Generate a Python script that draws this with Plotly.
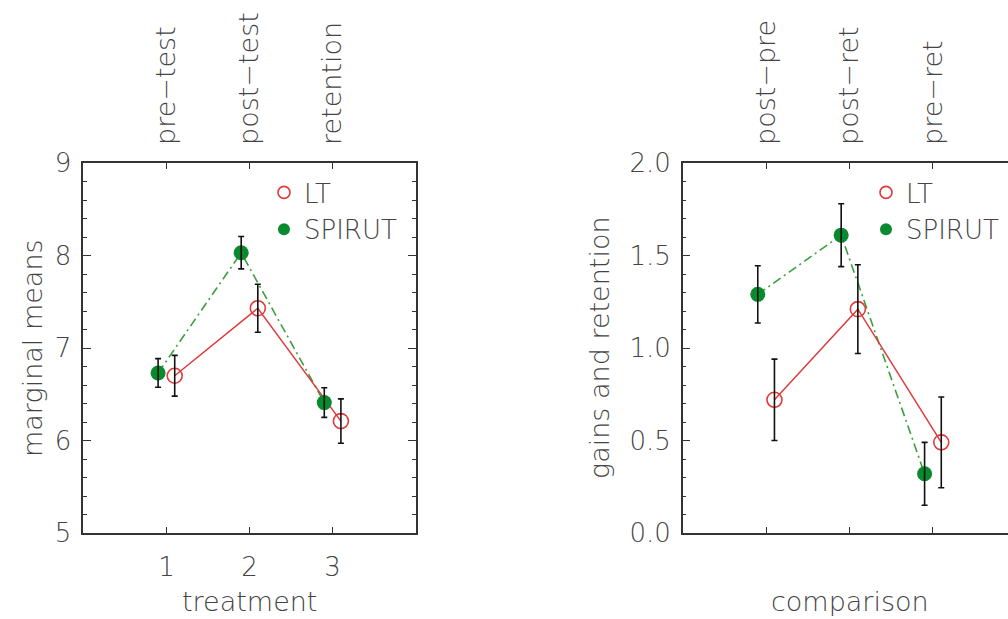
import plotly.graph_objects as go

# ---------------- data ----------------
treat_x = [1, 2, 3]
treat_top_labels = ["pre\u2212test", "post\u2212test", "retention"]
treat_bottom_labels = ["1", "2", "3"]
comp_top_labels = ["post\u2212pre", "post\u2212ret", "pre\u2212ret"]

offset_spirut = -0.1
offset_lt = 0.1

# left panel: marginal means
lt_means = [6.70, 7.43, 6.21]
lt_means_err = [0.22, 0.26, 0.24]
spirut_means = [6.73, 8.03, 6.41]
spirut_means_err = [0.155, 0.175, 0.16]

# right panel: gains and retention
lt_gain = [0.72, 1.21, 0.49]
lt_gain_err = [0.22, 0.24, 0.245]
spirut_gain = [1.29, 1.61, 0.32]
spirut_gain_err = [0.155, 0.17, 0.17]

# ---------------- style ----------------
W, H = 1008, 619
FONT = "DejaVu Sans"
FW = 300
TXT = "#444444"
AX = "#333333"
RED = "#e03a3a"
GREEN_M = "#0a8a2e"
GREEN_L = "#3aa03a"
FS = 26
FS_T = 27

left_dom = [83.3 / W, 415.7 / W]
right_dom = [682.7 / W, 1.0]
y_dom = [(H - 533) / H, (H - 163) / H]

xs = [v + offset_spirut for v in treat_x]
xl = [v + offset_lt for v in treat_x]

fig = go.Figure()


def add_panel(xa, ya, xtop, lt, lte, sp, spe, legend_name):
    fig.add_trace(go.Scatter(x=xs, y=sp, mode="lines", xaxis=xa, yaxis=ya,
                             line=dict(color=GREEN_L, width=1.6, dash="9px,4px,2px,4px"),
                             showlegend=False, hoverinfo="skip"))
    fig.add_trace(go.Scatter(x=xl, y=lt, mode="lines", xaxis=xa, yaxis=ya,
                             line=dict(color=RED, width=1.5),
                             showlegend=False, hoverinfo="skip"))
    fig.add_trace(go.Scatter(x=xs, y=sp, mode="markers", xaxis=xa, yaxis=ya,
                             marker=dict(symbol="circle", size=15, color=GREEN_M,
                                         line=dict(width=0)),
                             showlegend=False))
    fig.add_trace(go.Scatter(x=xl, y=lt, mode="markers", xaxis=xa, yaxis=ya,
                             marker=dict(symbol="circle-open", size=15, color=RED,
                                         line=dict(width=1.6)),
                             showlegend=False))
    for xx, yy, ee in ((xs, sp, spe), (xl, lt, lte)):
        fig.add_trace(go.Scatter(x=xx, y=yy, mode="markers", xaxis=xa, yaxis=ya,
                                 marker=dict(size=1, opacity=0),
                                 error_y=dict(type="data", array=ee, visible=True,
                                              color="#111111", thickness=1.6, width=3),
                                 showlegend=False, hoverinfo="skip"))
    # invisible trace so the top (label) axis gets drawn
    fig.add_trace(go.Scatter(x=treat_x, y=[None] * len(treat_x), mode="markers",
                             xaxis=xtop, yaxis=ya, showlegend=False, hoverinfo="skip"))
    # legend entries
    fig.add_trace(go.Scatter(x=[None], y=[None], mode="markers", xaxis=xa, yaxis=ya,
                             name="LT", legend=legend_name, legendgroup=legend_name + "a",
                             marker=dict(symbol="circle-open", size=12, color=RED,
                                         line=dict(width=1.6))))
    fig.add_trace(go.Scatter(x=[None], y=[None], mode="markers", xaxis=xa, yaxis=ya,
                             name="SPIRUT", legend=legend_name, legendgroup=legend_name + "b",
                             marker=dict(symbol="circle", size=12, color=GREEN_M)))


add_panel("x", "y", "x3", lt_means, lt_means_err, spirut_means, spirut_means_err, "legend")
add_panel("x2", "y2", "x4", lt_gain, lt_gain_err, spirut_gain, spirut_gain_err, "legend2")

tickfont = dict(family=FONT, size=FS, color=TXT, weight=FW)
topfont = dict(family=FONT, size=FS_T, color=TXT, weight=FW)
common_x = dict(showgrid=False, zeroline=False, showline=True, linecolor=AX, linewidth=1.5,
                ticks="inside", ticklen=6, tickcolor=AX, tickwidth=1.3, tickfont=tickfont,
                tickvals=treat_x, mirror="ticks", fixedrange=True)
common_y = dict(showgrid=False, zeroline=False, showline=True, linecolor=AX, linewidth=1.5,
                ticks="inside", ticklen=8, tickcolor=AX, tickwidth=1.3, tickfont=tickfont,
                ticklabelstandoff=5, fixedrange=True)
top_x = dict(side="top", showgrid=False, zeroline=False, showline=False, ticks="",
             tickvals=treat_x, tickangle=-90, tickfont=topfont, ticklabelstandoff=17,
             fixedrange=True)
legend_common = dict(xanchor="left", yanchor="top", bgcolor="rgba(0,0,0,0)",
                     font=dict(family=FONT, size=FS, color=TXT, weight=FW), tracegroupgap=0)

fig.update_layout(
    width=W, height=H,
    margin=dict(l=0, r=0, t=0, b=0, autoexpand=False),
    paper_bgcolor="white", plot_bgcolor="white",
    font=dict(family=FONT, size=FS, color=TXT, weight=FW),
    xaxis=dict(common_x, domain=left_dom, range=[0, 4], anchor="y",
               ticktext=treat_bottom_labels, ticklabelstandoff=10),
    yaxis=dict(common_y, domain=y_dom, range=[5, 9], dtick=1, anchor="x", mirror="ticks",
               minor=dict(dtick=0.2, ticks="inside", ticklen=4, tickcolor=AX, tickwidth=1)),
    xaxis3=dict(top_x, overlaying="x", matches="x", range=[0, 4], anchor="y",
                ticktext=treat_top_labels),
    xaxis2=dict(common_x, domain=right_dom, range=[0, 3.9], anchor="y2",
                showticklabels=False),
    yaxis2=dict(common_y, domain=y_dom, range=[0, 2], dtick=0.5, tickformat=".1f",
                anchor="x2", mirror=False,
                minor=dict(dtick=0.1, ticks="inside", ticklen=4, tickcolor=AX, tickwidth=1)),
    xaxis4=dict(top_x, overlaying="x2", matches="x2", range=[0, 3.9], anchor="y2",
                ticktext=comp_top_labels),
    legend=dict(legend_common, x=264 / W, y=(H - 169) / H),
    legend2=dict(legend_common, x=866 / W, y=(H - 169) / H),
    showlegend=True,
)

ann = dict(showarrow=False, xref="paper", yref="paper",
           font=dict(family=FONT, size=FS_T, color=TXT, weight=FW))
fig.add_annotation(ann, text="marginal means", x=32 / W, y=(H - 348) / H,
                   textangle=-90, xanchor="center", yanchor="middle")
fig.add_annotation(ann, text="treatment", x=249.5 / W, y=(H - 601) / H,
                   xanchor="center", yanchor="middle")
fig.add_annotation(ann, text="gains and retention", x=599 / W, y=(H - 348) / H,
                   textangle=-90, xanchor="center", yanchor="middle")
fig.add_annotation(ann, text="comparison", x=850 / W, y=(H - 601) / H,
                   xanchor="center", yanchor="middle")

fig.write_html("out.html")
